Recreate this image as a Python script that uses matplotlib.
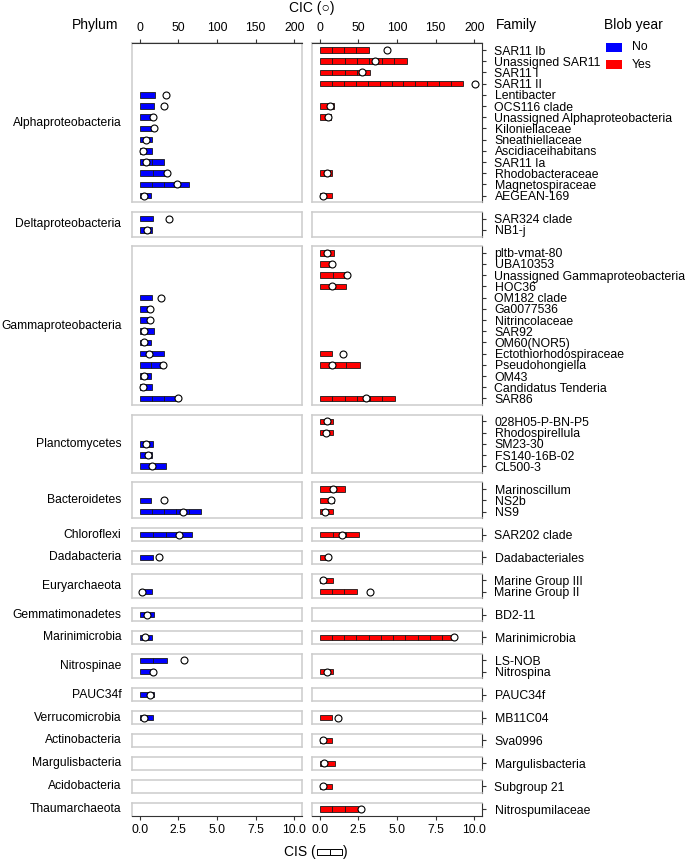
import matplotlib
matplotlib.use('Agg')
import matplotlib.pyplot as plt
from matplotlib.patches import Rectangle
from matplotlib.gridspec import GridSpec

plt.rcParams['font.family'] = ['Liberation Sans', 'DejaVu Sans']

# phylum facets (top to bottom) and how many families each one holds
phyla = ['Alphaproteobacteria', 'Deltaproteobacteria', 'Gammaproteobacteria',
         'Planctomycetes', 'Bacteroidetes', 'Chloroflexi', 'Dadabacteria',
         'Euryarchaeota', 'Gemmatimonadetes', 'Marinimicrobia', 'Nitrospinae',
         'PAUC34f', 'Verrucomicrobia', 'Actinobacteria', 'Margulisbacteria',
         'Acidobacteria', 'Thaumarchaeota']
n_fam = [14, 2, 14, 5, 3, 1, 1, 2, 1, 1, 2, 1, 1, 1, 1, 1, 1]

families = ['SAR11 Ib', 'Unassigned SAR11', 'SAR11 I', 'SAR11 II', 'Lentibacter',
            'OCS116 clade', 'Unassigned Alphaproteobacteria', 'Kiloniellaceae',
            'Sneathiellaceae', 'Ascidiaceihabitans', 'SAR11 Ia', 'Rhodobacteraceae',
            'Magnetospiraceae', 'AEGEAN-169',
            'SAR324 clade', 'NB1-j',
            'pltb-vmat-80', 'UBA10353', 'Unassigned Gammaproteobacteria', 'HOC36',
            'OM182 clade', 'Ga0077536', 'Nitrincolaceae', 'SAR92', 'OM60(NOR5)',
            'Ectothiorhodospiraceae', 'Pseudohongiella', 'OM43', 'Candidatus Tenderia',
            'SAR86',
            '028H05-P-BN-P5', 'Rhodospirellula', 'SM23-30', 'FS140-16B-02', 'CL500-3',
            'Marinoscillum', 'NS2b', 'NS9',
            'SAR202 clade', 'Dadabacteriales', 'Marine Group III', 'Marine Group II',
            'BD2-11', 'Marinimicrobia', 'LS-NOB', 'Nitrospina', 'PAUC34f', 'MB11C04',
            'Sva0996', 'Margulisbacteria', 'Subgroup 21', 'Nitrospumilaceae']

N = None
# Blob year = No
no_cis = [N, N, N, N, 0.97, 0.95, 0.85, 0.85, 0.82, 0.8, 1.6, 1.77, 3.2, 0.75,
          0.85, 0.8,
          N, N, N, N, 0.8, 0.74, 0.74, 0.9, 0.75, 1.6, 1.5, 0.75, 0.8, 2.4,
          N, N, 0.87, 0.8, 1.7,
          N, 0.75, 3.96,
          3.4, 0.88, N, 0.8, 0.93, 0.8, 1.74, 0.88, 0.9, 0.88,
          N, N, N, N]
no_segs = [0, 0, 0, 0, 1, 1, 1, 1, 1, 1, 2, 2, 4, 1,
           1, 1,
           0, 0, 0, 0, 1, 1, 1, 1, 1, 2, 2, 1, 1, 3,
           0, 0, 1, 1, 2,
           0, 1, 5,
           4, 1, 0, 1, 1, 1, 2, 1, 1, 1,
           0, 0, 0, 0]
no_cic = [N, N, N, N, 34, 31, 17, 18, 8.6, 4.4, 8.6, 35, 48, 5.2,
          38.5, 9,
          N, N, N, N, 27.6, 13.8, 13.8, 6, 6, 12, 30, 6, 4.4, 49,
          N, N, 8.6, 11.2, 16,
          N, 31.8, 56,
          50.8, 25.4, N, 3.5, 9, 7.4, 57.7, 16.8, 13.4, 5.5,
          N, N, N, N]

# Blob year = Yes
yes_cis = [3.16, 5.63, 3.23, 9.29, N, 0.9, 0.75, N, N, N, N, 0.82, N, 0.82,
           N, N,
           0.9, 0.8, 1.68, 1.7, N, N, N, N, N, 0.8, 2.58, N, N, 4.84,
           0.88, 0.88, N, N, N,
           1.63, 0.95, 0.86,
           2.56, 0.69, 0.88, 2.4, N, 8.7, N, 0.84, N, 0.77,
           0.77, 0.97, 0.8, 2.45]
yes_segs = [4, 7, 4, 12, 0, 1, 1, 0, 0, 0, 0, 1, 0, 1,
            0, 0,
            1, 1, 2, 2, 0, 0, 0, 0, 0, 1, 3, 0, 0, 6,
            1, 1, 0, 0, 0,
            2, 1, 1,
            3, 1, 1, 3, 0, 11, 0, 1, 0, 1,
            1, 1, 1, 3]
yes_cic = [87, 72, 55, 201, N, 12.9, 10.3, N, N, N, N, 9.5, N, 4.8,
           N, N,
           9.5, 15.5, 34.8, 16.4, N, N, N, N, N, 30.6, 16.4, N, N, 60,
           9, 8.6, N, N, N,
           17, 14.7, 6.5,
           29, 11.2, 3.9, 65, N, 174, N, 9.5, N, 23,
           4.5, 5.7, 4.5, 52.8]

years = [('No', '#0000FF', no_cis, no_segs, no_cic),
         ('Yes', '#FF0000', yes_cis, yes_segs, yes_cic)]

W, H = 685, 859
fig = plt.figure(figsize=(W / 100, H / 100), dpi=100)
gs = GridSpec(len(phyla), 2, figure=fig, height_ratios=[n + 0.2 for n in n_fam],
              left=132 / W, right=482 / W, top=1 - 43.3 / H, bottom=1 - 816 / H,
              hspace=0.26, wspace=0.059)

frame = '#CCCCCC'
dark = '#333333'
start = 0
for i, (phy, n) in enumerate(zip(phyla, n_fam)):
    idx = list(range(start, start + n))
    for j, (yr, col, cis, segs, cic) in enumerate(years):
        ax = fig.add_subplot(gs[i, j])
        ys, ws, ls, cx, cy = [], [], [], [], []
        for k, f in enumerate(idx):
            if cis[f] is None:
                continue
            w = cis[f] / segs[f]
            for s in range(segs[f]):
                ys.append(k)
                ws.append(w)
                ls.append(s * w)
            cx.append(cic[f])
            cy.append(k)
        ax.barh(ys, ws, left=ls, height=0.5, color=col, edgecolor='#1a1a1a',
                linewidth=0.6)
        ax.set_xlim(-0.5, 10.5)
        ax.set_ylim(n - 0.4, -0.6)
        for sp in ax.spines.values():
            sp.set_color(frame)
            sp.set_linewidth(1.1)

        # circles live on the CIC scale
        axc = ax.twiny()
        axc.set_xlim(-10, 210)
        axc.set_ylim(n - 0.4, -0.6)
        axc.scatter(cx, cy, s=25, facecolor='white', edgecolor='black',
                    linewidth=0.8, zorder=3, clip_on=False)
        for sp in axc.spines.values():
            sp.set_visible(False)

        ax.set_yticks([])
        if j == 1:
            ax.yaxis.tick_right()
            ax.set_yticks(range(n))
            ax.set_yticklabels([families[f] for f in idx], fontsize=8.8)
            ax.tick_params(axis='y', length=3, width=0.8, color=dark, pad=6)
            ax.spines['right'].set_color(dark)
            ax.spines['right'].set_linewidth(0.8)
        else:
            ax.text(-0.062, 0.5, phy, transform=ax.transAxes, ha='right',
                    va='center', fontsize=8.7)

        if i == len(phyla) - 1:
            ax.set_xticks([0, 2.5, 5, 7.5, 10])
            ax.set_xticklabels(['0.0', '2.5', '5.0', '7.5', '10.0'], fontsize=8.8)
            ax.tick_params(axis='x', length=3, width=0.8, color=dark, pad=3)
            ax.spines['bottom'].set_color(dark)
            ax.spines['bottom'].set_linewidth(0.8)
        else:
            ax.set_xticks([])

        if i == 0:
            axc.set_xticks([0, 50, 100, 150, 200])
            axc.tick_params(axis='x', labelsize=8.8, length=3, width=0.8,
                            color=dark, pad=4)
            axc.spines['top'].set_visible(True)
            axc.spines['top'].set_color(dark)
            axc.spines['top'].set_linewidth(0.8)
        else:
            axc.set_xticks([])
    start += n

# headers
fig.text(118 / W, 1 - 25 / H, 'Phylum', ha='right', va='center', fontsize=10)
fig.text(496 / W, 1 - 25 / H, 'Family', ha='left', va='center', fontsize=10)
fig.text(312 / W, 1 - 8 / H, 'CIC (\u25cb)', ha='center', va='center', fontsize=10)

# bottom title with the bar glyph
fig.text(316 / W, 1 - 852 / H, 'CIS (', ha='right', va='center', fontsize=10)
fig.text(343 / W, 1 - 852 / H, ')', ha='left', va='center', fontsize=10)
for bx in (317, 329.5):
    fig.add_artist(Rectangle((bx / W, 1 - 855 / H), 12.5 / W, 6 / H,
                             transform=fig.transFigure, facecolor='white',
                             edgecolor='black', linewidth=0.7))

# legend
fig.text(604 / W, 1 - 24.5 / H, 'Blob year', ha='left', va='center', fontsize=10)
for k, (yr, col, *_) in enumerate(years):
    ytop = 43 + k * 17
    fig.add_artist(Rectangle((606 / W, 1 - (ytop + 9) / H), 16 / W, 9 / H,
                             transform=fig.transFigure, facecolor=col,
                             edgecolor='none'))
    fig.text(632 / W, 1 - (ytop + 4.5) / H, yr, ha='left', va='center',
             fontsize=8.8)

fig.savefig('out.png', dpi=100)
